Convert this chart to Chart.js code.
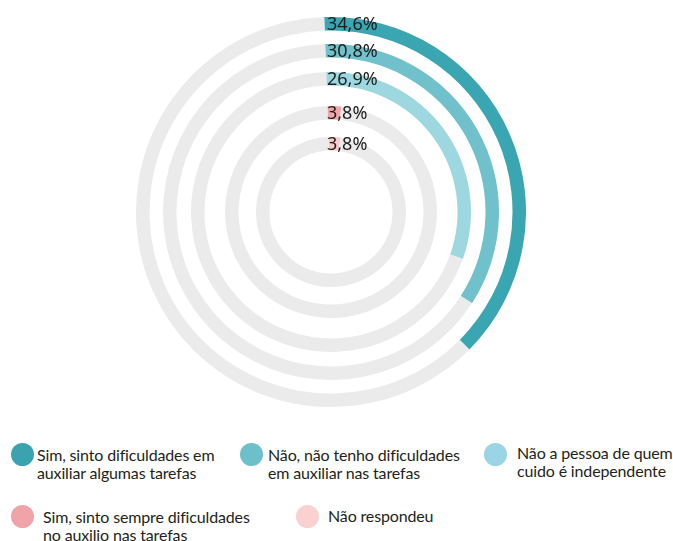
<!DOCTYPE html>
<html>
<head>
<meta charset="utf-8">
<script src="https://cdn.jsdelivr.net/npm/chart.js@4"></script>
<style>
  html, body { margin: 0; padding: 0; background: #fff; }
  body { width: 673px; height: 541px; position: relative; overflow: hidden; font-family: Lato, "Noto Sans", sans-serif; color: #231f20; }
  #wrap { position: absolute; left: 136px; top: 17px; width: 390px; height: 390px; }
  .item { position: absolute; display: flex; align-items: flex-start; }
  .dot { width: 23px; height: 23px; border-radius: 50%; flex: none; }
  .txt { font-size: 16px; line-height: 18px; letter-spacing: -0.15px; white-space: nowrap; }
</style>
</head>
<body>
<div id="wrap"><canvas id="rings"></canvas></div>
<div id="legend"></div>
<script>
// categorias (de fora para dentro)
const categorias = [
  'Sim, sinto dificuldades em auxiliar algumas tarefas',
  'Não, não tenho dificuldades em auxiliar nas tarefas',
  'Não a pessoa de quem cuido é independente',
  'Sim, sinto sempre dificuldades no auxilio nas tarefas',
  'Não respondeu'
];
// linhas da legenda tal como aparecem
const legendaLinhas = [
  ['Sim, sinto dificuldades em', 'auxiliar algumas tarefas'],
  ['Não, não tenho dificuldades', 'em auxiliar nas tarefas'],
  ['Não a pessoa de quem', 'cuido é independente'],
  ['Sim, sinto sempre dificuldades', 'no auxilio nas tarefas'],
  ['Não respondeu']
];
// percentagens escritas no gráfico
const percentagens = [34.6, 30.8, 26.9, 3.8, 3.8];
// comprimento dos arcos desenhados (% da volta)
const arcos = [38.0, 34.7, 31.0, 2.1, 2.6];

const cores = ['#3aa6b2', '#70c1cb', '#9dd8e0', '#f2a5aa', '#f9cbcb'];
const coresLegenda = ['#3aa3af', '#6cc0ca', '#9ad4e5', '#f0a4aa', '#fad0d0'];
const cinza = '#ebebeb';
const espessura = 13.5;
const espacos = [13.5, 14.5, 20.5, 17.5];

const fmt = v => v.toFixed(1).replace('.', ',') + '%';

// um anel por categoria, com anéis transparentes entre eles
const datasets = [];
categorias.forEach((c, i) => {
  datasets.push({
    label: c, anel: i,
    data: [arcos[i], 100 - arcos[i]],
    backgroundColor: [cores[i], cinza],
    borderWidth: 0, weight: espessura
  });
  if (i < espacos.length) {
    datasets.push({ label: '', data: [100], backgroundColor: ['rgba(0,0,0,0)'], borderWidth: 0, weight: espacos[i] });
  }
});

const rotulos = {
  id: 'rotulos',
  afterDatasetsDraw(chart) {
    const ctx = chart.ctx;
    ctx.save();
    ctx.font = '18px "Noto Sans"';
    ctx.fillStyle = '#1d1d1b';
    ctx.textAlign = 'left';
    ctx.textBaseline = 'middle';
    chart.data.datasets.forEach((ds, di) => {
      if (ds.anel === undefined) return;
      const arc = chart.getDatasetMeta(di).data[0];
      const r = (arc.innerRadius + arc.outerRadius) / 2;
      ctx.fillText(fmt(percentagens[ds.anel]), arc.x - 4, arc.y - r + 1);
    });
    ctx.restore();
  }
};

new Chart(document.getElementById('rings'), {
  type: 'doughnut',
  data: { labels: ['valor', 'resto'], datasets: datasets },
  options: {
    responsive: true, maintainAspectRatio: false, animation: false,
    rotation: -2,
    cutout: 61.5,
    events: [],
    layout: { padding: 0 },
    plugins: { legend: { display: false }, tooltip: { enabled: false } }
  },
  plugins: [rotulos]
});

// legenda em HTML
const posLegenda = [
  { x: 11, y: 443, tx: 37, ty: 446 },
  { x: 240, y: 443, tx: 268, ty: 446 },
  { x: 484, y: 443, tx: 517, ty: 444 },
  { x: 11, y: 505, tx: 43, ty: 508 },
  { x: 296, y: 505, tx: 328, ty: 507 }
];
const legenda = document.getElementById('legend');
legendaLinhas.forEach((linhas, i) => {
  const p = posLegenda[i];
  const d = document.createElement('div');
  d.className = 'dot item';
  d.style.left = p.x + 'px'; d.style.top = p.y + 'px';
  d.style.background = coresLegenda[i];
  legenda.appendChild(d);
  const t = document.createElement('div');
  t.className = 'txt item';
  t.style.left = p.tx + 'px'; t.style.top = p.ty + 'px';
  t.style.display = 'block';
  t.innerHTML = linhas.join('<br>');
  legenda.appendChild(t);
});
</script>
</body>
</html>
